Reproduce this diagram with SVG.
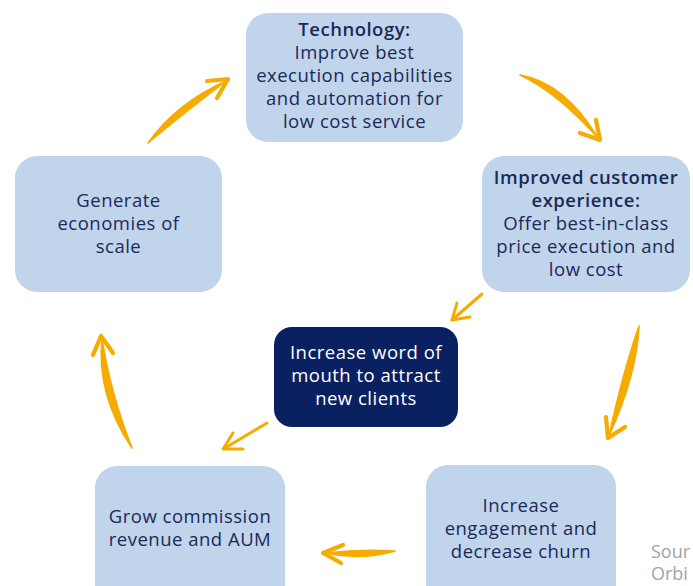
<svg xmlns="http://www.w3.org/2000/svg" width="693" height="586" viewBox="0 0 693 586">
  <style>
    .box { fill: #c0d4ec; }
    .dark { fill: #0a2161; }
    .lbl { font-family: "Open Sans", "Noto Sans", "Liberation Sans", sans-serif; font-size: 18.5px; letter-spacing: 0.5px; fill: #1c2957; text-anchor: middle; }
    .lbl.inv { fill: #ffffff; }
    .b { font-weight: 600; }
    .brush { fill: #f5ab00; stroke: #f5ab00; stroke-width: 1.6; stroke-linejoin: round; }
    .head { fill: none; stroke: #f5ab00; stroke-width: 4.2; stroke-linecap: round; stroke-linejoin: round; }
    .thin { fill: none; stroke: #f5ab00; stroke-width: 3; stroke-linecap: round; stroke-linejoin: round; }
    .note { font-family: "Open Sans", "Noto Sans", "Liberation Sans", sans-serif; font-size: 18px; fill: #a3a3a3; }
  </style>

  <g id="technology">
    <rect class="box" x="246" y="13" width="217" height="129" rx="22"/>
    <text class="lbl" x="354.5" y="36"><tspan class="b">Technology:</tspan><tspan x="354.5" dy="23">Improve best</tspan><tspan x="354.5" dy="23">execution capabilities</tspan><tspan x="354.5" dy="23">and automation for</tspan><tspan x="354.5" dy="23">low cost service</tspan></text>
  </g>

  <g id="customer-experience">
    <rect class="box" x="482" y="156" width="208" height="136" rx="22"/>
    <text class="lbl" x="586" y="184"><tspan class="b">Improved customer</tspan><tspan class="b" x="586" dy="23">experience:</tspan><tspan x="586" dy="23">Offer best-in-class</tspan><tspan x="586" dy="23">price execution and</tspan><tspan x="586" dy="23">low cost</tspan></text>
  </g>

  <g id="word-of-mouth">
    <rect class="dark" x="274" y="327" width="184" height="100" rx="18"/>
    <text class="lbl inv" x="366" y="359">Increase word of<tspan x="366" dy="23">mouth to attract</tspan><tspan x="366" dy="23">new clients</tspan></text>
  </g>

  <g id="engagement">
    <rect class="box" x="426" y="465" width="190" height="150" rx="22"/>
    <text class="lbl" x="521" y="512">Increase<tspan x="521" dy="23">engagement and</tspan><tspan x="521" dy="23">decrease churn</tspan></text>
  </g>

  <g id="commission">
    <rect class="box" x="95" y="466" width="190" height="150" rx="22"/>
    <text class="lbl" x="190" y="523">Grow commission<tspan x="190" dy="23">revenue and AUM</tspan></text>
  </g>

  <g id="economies">
    <rect class="box" x="15" y="156" width="207" height="136" rx="22"/>
    <text class="lbl" x="118.5" y="207">Generate<tspan x="118.5" dy="23">economies of</tspan><tspan x="118.5" dy="23">scale</tspan></text>
  </g>

  <g id="connectors">
    <!-- economies of scale -> technology -->
    <path class="brush" d="M148,143 Q183.7,112.7 226,81 Q176.3,103.3 148,143 Z"/>
    <polyline class="head" points="207,81 228,79 217,98"/>
    <!-- technology -> customer experience -->
    <path class="brush" d="M520,75 Q564.8,82.8 598,138 Q557.2,92.2 520,75 Z"/>
    <polyline class="head" points="596,120 600,140 580,133"/>
    <!-- customer experience -> word of mouth -->
    <polyline class="thin" points="482,294 452,320"/>
    <polyline class="thin" points="457,303 452,320 470,317"/>
    <!-- customer experience -> engagement -->
    <path class="brush" d="M639,326 Q636.8,374.8 609,436 Q623.2,371.2 639,326 Z"/>
    <polyline class="head" points="606,417 608,438 625,427"/>
    <!-- word of mouth -> commission -->
    <polyline class="thin" points="267,423 225,448"/>
    <polyline class="thin" points="233,433 223,449 243,449"/>
    <!-- engagement -> commission -->
    <path class="brush" d="M395,551 Q360,561 325,553 Q360,549 395,551 Z"/>
    <polyline class="head" points="343,545 323,553 341,563"/>
    <!-- commission -> economies of scale -->
    <path class="brush" d="M132,448 Q109.8,391.2 102,338 Q96.2,394.8 132,448 Z"/>
    <polyline class="head" points="93,355 101,336 113,353"/>
  </g>

  <text class="note" x="651" y="558">Sour</text>
  <text class="note" x="651" y="580">Orbi</text>
</svg>
